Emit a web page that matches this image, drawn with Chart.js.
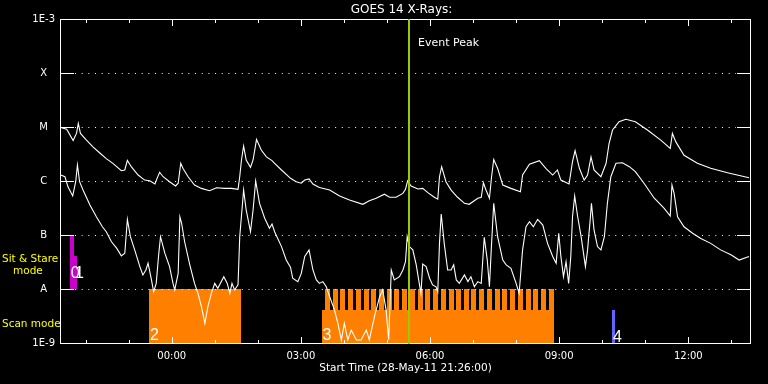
<!DOCTYPE html>
<html><head><meta charset="utf-8">
<script src="https://cdn.jsdelivr.net/npm/chart.js@4.4.1/dist/chart.umd.min.js"></script>
<style>html,body{margin:0;padding:0;background:#000;overflow:hidden}canvas{display:block}</style>
</head><body><canvas id="c" width="768" height="384"></canvas>
<script>
// ---------- DATA (time in hours relative to 29-May-11 00:00 UT, flux in W/m^2) ----------
const titleText = 'GOES 14 X-Rays:';
const xAxisTitle = 'Start Time (28-May-11 21:26:00)';
const xMin = -2.595, xMax = 13.456;
const hourTicks = [-2,-1,0,1,2,3,4,5,6,7,8,9,10,11,12,13];
const yTickVals = [1e-9,1e-8,1e-7,1e-6,1e-5,1e-4,1e-3];
const yTickLabels = ['1E-9','A','B','C','M','X','1E-3'];
const gridLevels = [1e-8,1e-7,1e-6,1e-5,1e-4];

// 1-8 Angstrom (long) channel
const longT = [-2.58,-2.44,-2.29,-2.21,-2.17,-2.12,-1.98,-1.83,-1.67,-1.52,
-1.36,-1.17,-1.09,-1.03,-0.94,-0.78,-0.63,-0.51,-0.39,-0.34,
-0.28,-0.20,-0.05,0.09,0.15,0.21,0.26,0.38,0.53,0.69,
0.88,1.04,1.23,1.39,1.54,1.58,1.62,1.67,1.73,1.83,
1.89,1.97,2.08,2.20,2.33,2.39,2.55,2.76,2.89,3.01,
3.09,3.19,3.28,3.43,3.67,3.90,4.13,4.44,4.59,4.75,
4.94,5.06,5.21,5.37,5.43,5.48,5.56,5.72,5.83,5.95,
6.10,6.18,6.22,6.27,6.37,6.49,6.64,6.80,6.91,7.11,
7.19,7.24,7.30,7.38,7.43,7.48,7.57,7.69,7.88,8.10,
8.15,8.31,8.54,8.69,8.85,8.96,9.04,9.23,9.31,9.37,
9.47,9.58,9.66,9.74,9.81,9.97,10.09,10.16,10.24,10.39,
10.55,10.77,11.05,11.36,11.58,11.63,11.71,11.90,12.21,12.52,
12.91,13.41];
const longF = [9.8e-6,9.1e-6,5.6e-6,7.7e-6,1.17e-5,7.6e-6,5.7e-6,4.3e-6,3.3e-6,2.6e-6,
2.1e-6,1.55e-6,1.6e-6,2.4e-6,1.84e-6,1.29e-6,1.04e-6,1.01e-6,8.8e-7,1.12e-6,
1.45e-6,1.2e-6,9.7e-7,8.1e-7,9.1e-7,2.13e-6,1.72e-6,1.2e-6,8.4e-7,7.3e-7,
6.6e-7,7.5e-7,7.3e-7,7.3e-7,7.0e-7,1.2e-6,2.45e-6,4.45e-6,2.45e-6,1.79e-6,
2.45e-6,5.9e-6,3.75e-6,2.8e-6,2.38e-6,2.13e-6,1.6e-6,1.12e-6,9.7e-7,9.1e-7,
1.04e-6,1.09e-6,8.8e-7,7.6e-7,6.8e-7,5.3e-7,4.45e-7,3.7e-7,4.3e-7,4.8e-7,
5.7e-7,5.0e-7,5.0e-7,5.9e-7,7.0e-7,1.01e-6,8.1e-7,7.1e-7,7.3e-7,6.1e-7,
5.0e-7,4.6e-7,1.2e-6,1.84e-6,9.7e-7,6.8e-7,5.0e-7,3.86e-7,3.7e-7,4.8e-7,
5.0e-7,9.3e-7,6.8e-7,4.8e-7,1.2e-6,2.5e-6,1.72e-6,8.4e-7,7.3e-7,6.3e-7,
1.29e-6,2.04e-6,2.38e-6,1.72e-6,1.29e-6,1.6e-6,1.04e-6,8.8e-7,2.28e-6,3.64e-6,
1.72e-6,1.04e-6,1.29e-6,2.8e-6,1.6e-6,1.2e-6,2.13e-6,5.0e-6,8.8e-6,1.25e-5,
1.39e-5,1.25e-5,8.8e-6,5.7e-6,4.0e-6,7.6e-6,5.3e-6,3.0e-6,2.13e-6,1.72e-6,
1.42e-6,1.15e-6];

// 0.5-4 Angstrom (short) channel
const shortT = [-2.58,-2.48,-2.41,-2.30,-2.23,-2.19,-2.14,-2.06,-1.90,-1.75,
-1.61,-1.52,-1.40,-1.28,-1.17,-1.09,-1.03,-0.96,-0.86,-0.74,
-0.67,-0.60,-0.55,-0.47,-0.42,-0.36,-0.30,-0.26,-0.16,-0.05,
0.03,0.07,0.15,0.19,0.23,0.30,0.42,0.53,0.61,0.69,
0.77,0.84,0.92,1.00,1.07,1.21,1.29,1.35,1.40,1.46,
1.54,1.58,1.67,1.73,1.83,1.89,1.95,2.04,2.16,2.27,
2.33,2.39,2.55,2.66,2.76,2.81,2.93,3.01,3.09,3.19,
3.28,3.36,3.43,3.51,3.59,3.67,3.78,3.86,3.94,4.01,
4.09,4.17,4.29,4.40,4.52,4.59,4.71,4.83,4.90,4.98,
5.04,5.10,5.17,5.29,5.37,5.43,5.47,5.52,5.60,5.68,
5.75,5.79,5.83,5.91,5.99,6.06,6.14,6.18,6.22,6.26,
6.33,6.41,6.49,6.55,6.61,6.68,6.80,6.88,6.95,7.03,
7.11,7.19,7.26,7.33,7.38,7.43,7.48,7.57,7.69,7.77,
7.88,8.00,8.07,8.15,8.23,8.31,8.40,8.50,8.62,8.73,
8.85,8.93,8.99,9.04,9.10,9.16,9.22,9.27,9.31,9.36,
9.43,9.51,9.61,9.66,9.72,9.75,9.81,9.89,9.97,10.05,
10.12,10.20,10.32,10.47,10.63,10.77,10.97,11.21,11.44,11.58,
11.62,11.67,11.75,11.90,12.10,12.29,12.52,12.75,12.99,13.18,
13.41];
const shortF = [1.29e-6,1.2e-6,7.8e-7,5.3e-7,9.7e-7,1.98e-6,9.7e-7,6.8e-7,3.6e-7,2.18e-7,
1.42e-7,1.15e-7,7.5e-8,5.7e-8,4.1e-8,4.6e-8,1.95e-7,9.3e-8,5.3e-8,2.6e-8,
1.82e-8,2.25e-8,3.0e-8,1.47e-8,8.9e-9,1.27e-8,4.6e-8,9.3e-8,4.6e-8,2.6e-8,
1.27e-8,9.6e-9,1.95e-8,2.18e-7,1.65e-7,7.5e-8,2.8e-8,1.27e-8,8.3e-9,4.7e-9,
2.3e-9,4.7e-9,8.3e-9,1.27e-8,1.03e-8,1.69e-8,1.27e-8,8.3e-9,1.27e-8,9.6e-9,
1.19e-8,9.3e-8,6.8e-7,2.9e-7,1.15e-7,2.9e-7,1.0e-6,3.86e-7,2.04e-7,1.33e-7,
1.6e-7,1.15e-7,6.1e-8,3.44e-8,2.5e-8,1.58e-8,1.37e-8,1.95e-8,4.0e-8,5.3e-8,
2.25e-8,1.47e-8,1.27e-8,1.37e-8,1.1e-8,7.2e-9,4.1e-9,2.3e-9,1.14e-9,2.3e-9,
1.14e-9,1.74e-9,1.14e-9,1.14e-9,1.74e-9,1.14e-9,3.1e-9,7.2e-9,9.6e-9,4.1e-9,
1.14e-9,2.25e-8,1.47e-8,1.69e-8,2.25e-8,3.2e-8,9.3e-8,6.1e-8,5.3e-8,2.8e-8,
1.27e-8,8.3e-9,2.9e-8,2.6e-8,1.58e-8,1.19e-8,1.1e-8,8.9e-9,7.0e-8,2.45e-7,
7.0e-8,2.25e-8,2.25e-8,2.8e-8,1.47e-8,1.27e-8,1.82e-8,1.37e-8,1.69e-8,1.1e-8,
1.37e-8,1.27e-8,9.1e-8,3.44e-8,1.1e-8,7.0e-8,3.86e-7,9.3e-8,3.44e-8,2.8e-8,
2.42e-8,1.27e-8,8.3e-9,5.3e-8,1.42e-7,1.76e-7,1.42e-7,1.95e-7,1.53e-7,7.0e-8,
4.0e-8,3.0e-8,1.08e-7,4.0e-8,1.69e-8,3.2e-8,1.27e-8,4.0e-8,2.18e-7,5.3e-7,
2.18e-7,9.3e-8,2.6e-8,5.3e-8,1.9e-7,3.86e-7,1.24e-7,6.1e-8,5.3e-8,9.3e-8,
3.86e-7,1.2e-6,2.13e-6,2.18e-6,1.84e-6,1.49e-6,9.1e-7,4.8e-7,3.1e-7,2.25e-7,
8.4e-7,5.9e-7,2.18e-7,1.42e-7,1.08e-7,8.6e-8,7.0e-8,5.3e-8,4.3e-8,3.44e-8,
4.0e-8];

// Observation timeline boxes
const sitStareLabels = ['0','1'];
const sitStareStart = [-2.37,-2.27];
const sitStareEnd   = [-2.27,-2.20];
const sitStareTop   = [1e-7, 4.1e-8];
const sitStareBase  = 1e-8;

const scanLabels = ['2','3'];
const scanStart = [-0.53, 3.48];
const scanEnd   = [1.60, 8.88];
const scanTop   = [1e-8, 4.1e-9];
const scanBase  = 1e-9;
// individual rasters of observation 3 (upper band)
const rasterStart = [3.56,3.74,3.92,4.10,4.28,4.46,4.64,4.81,4.99,5.17,
5.35,5.53,5.71,5.89,6.07,6.25,6.43,6.61,6.78,6.96,
7.14,7.32,7.50,7.68,7.86,8.04,8.22,8.40,8.58,8.76];
const rasterDur = 0.116;
const rasterBase = 4.1e-9, rasterTop = 1e-8;

const otherLabels = ['4'];
const otherStart = [10.23];
const otherEnd = [10.30];
const otherTop = [4.1e-9];

const eventPeak = 5.52;

// ---------- STYLE ----------
const FONT = '"DejaVu Sans", sans-serif';
const ORANGE = '#ff8000', MAGENTA = '#cc00cc', BLUE = '#6464ff', GREEN = '#99cc00', YELLOW = '#ffff00';

function pad2(n){ return (n < 10 ? '0' : '') + n; }

const longPts = longT.map((t,i)=>({x:t, y:longF[i]}));
const shortPts = shortT.map((t,i)=>({x:t, y:shortF[i]}));

function box(ctx, xs, ys, t0, t1, v0, v1, color){
  const xa = Math.round(xs.getPixelForValue(t0)), xb = Math.round(xs.getPixelForValue(t1));
  const ya = Math.round(ys.getPixelForValue(v1)), yb = Math.round(ys.getPixelForValue(v0));
  ctx.fillStyle = color;
  ctx.fillRect(xa, ya, Math.max(xb - xa, 1), yb - ya);
}

const idl = {
  id: 'idl',
  beforeDraw(chart){
    const c = chart.ctx; c.save(); c.fillStyle = '#000'; c.fillRect(0,0,chart.width,chart.height); c.restore();
  },
  beforeDatasetsDraw(chart){
    const c = chart.ctx, xs = chart.scales.x, ys = chart.scales.y, a = chart.chartArea;
    c.save();
    for (let i=0;i<sitStareStart.length;i++) box(c, xs, ys, sitStareStart[i], sitStareEnd[i], sitStareBase, sitStareTop[i], MAGENTA);
    for (let i=0;i<scanStart.length;i++) box(c, xs, ys, scanStart[i], scanEnd[i], scanBase, scanTop[i], ORANGE);
    for (let i=0;i<rasterStart.length;i++) box(c, xs, ys, rasterStart[i], rasterStart[i]+rasterDur, rasterBase, rasterTop, ORANGE);
    for (let i=0;i<otherStart.length;i++) box(c, xs, ys, otherStart[i], otherEnd[i], scanBase, otherTop[i], BLUE);
    c.strokeStyle = '#fff'; c.lineWidth = 1; c.setLineDash([1, 5.67]);
    gridLevels.forEach(v=>{
      const y = Math.round(ys.getPixelForValue(v)) + 0.5;
      c.beginPath(); c.moveTo(a.left + 15, y); c.lineTo(a.right - 15, y); c.stroke();
    });
    c.setLineDash([]);
    c.restore();
  },
  afterDatasetsDraw(chart){
    const c = chart.ctx, xs = chart.scales.x, ys = chart.scales.y, a = chart.chartArea;
    c.save();
    c.strokeStyle = '#fff'; c.lineWidth = 1;
    c.strokeRect(a.left + 0.5, a.top + 0.5, a.right - a.left - 1, a.bottom - a.top);
    gridLevels.forEach(v=>{
      const y = Math.round(ys.getPixelForValue(v)) + 0.5;
      c.beginPath(); c.moveTo(a.left, y); c.lineTo(a.left + 14, y);
      c.moveTo(a.right - 14, y); c.lineTo(a.right, y); c.stroke();
    });
    hourTicks.forEach(h=>{
      const x = Math.round(xs.getPixelForValue(h)) + 0.5;
      const len = (h % 3 === 0) ? 7 : 4;
      c.beginPath(); c.moveTo(x, a.bottom + 1); c.lineTo(x, a.bottom + 1 - len);
      c.moveTo(x, a.top); c.lineTo(x, a.top + len); c.stroke();
    });
    const xp = Math.round(xs.getPixelForValue(eventPeak));
    c.fillStyle = GREEN; c.fillRect(xp - 1, a.top, 2, a.bottom - a.top + 1);
    c.textBaseline = 'middle';
    c.fillStyle = '#fff';
    c.font = '12px ' + FONT; c.textAlign = 'center';
    c.fillText(titleText, (a.left + a.right)/2 - 4, 10);
    c.font = '10.5px ' + FONT;
    c.fillText(xAxisTitle, (a.left + a.right)/2, 368);
    c.font = '11px ' + FONT; c.textAlign = 'left';
    c.fillText('Event Peak', xp + 9, 43);
    c.fillStyle = YELLOW; c.font = '10.5px ' + FONT;
    c.fillText('Sit & Stare', 2, 259);
    c.fillText('mode', 13, 271);
    c.fillText('Scan mode', 2, 324);
    c.fillStyle = '#fff'; c.textBaseline = 'alphabetic'; c.font = '16px "Liberation Sans", sans-serif';
    const yS = Math.round(ys.getPixelForValue(sitStareBase)) - 11;
    sitStareLabels.forEach((s,i)=> c.fillText(s, xs.getPixelForValue(sitStareStart[i]) + 1, yS));
    scanLabels.forEach((s,i)=> c.fillText(s, xs.getPixelForValue(scanStart[i]) + 1, a.bottom - 3));
    otherLabels.forEach((s,i)=> c.fillText(s, xs.getPixelForValue(otherStart[i]) + 1, a.bottom - 1));
    c.restore();
  }
};

new Chart(document.getElementById('c').getContext('2d'), {
  type: 'line',
  data: { datasets: [
    { data: longPts, borderColor: '#fff', borderWidth: 1.1, pointRadius: 0, tension: 0, fill: false },
    { data: shortPts, borderColor: '#fff', borderWidth: 1.1, pointRadius: 0, tension: 0, fill: false }
  ]},
  options: {
    responsive: false, animation: false, devicePixelRatio: 1,
    layout: { padding: { top: 19, right: 17, left: 0, bottom: 0 } },
    plugins: { legend: { display: false }, tooltip: { enabled: false }, title: { display: false } },
    scales: {
      x: {
        type: 'linear', min: xMin, max: xMax,
        afterBuildTicks: s => { s.ticks = hourTicks.map(v => ({ value: v })); },
        afterFit: s => { s.height = 41; },
        grid: { display: false, drawTicks: false }, border: { display: false },
        ticks: { autoSkip: false, maxRotation: 0, color: '#fff', padding: 7,
          font: { family: 'DejaVu Sans', size: 10 },
          callback: v => (v % 3 === 0 && v >= 0) ? pad2(v) + ':00' : '' }
      },
      y: {
        type: 'logarithmic', min: 1e-9, max: 1e-3,
        afterBuildTicks: s => { s.ticks = yTickVals.map(v => ({ value: v })); },
        afterFit: s => { s.width = 60; },
        grid: { display: false, drawTicks: false }, border: { display: false },
        ticks: { autoSkip: false, color: '#fff', padding: 5, crossAlign: 'center',
          font: { family: 'DejaVu Sans', size: 10 },
          callback: (v, i) => yTickLabels[i] }
      }
    }
  },
  plugins: [idl]
});
</script></body></html>
